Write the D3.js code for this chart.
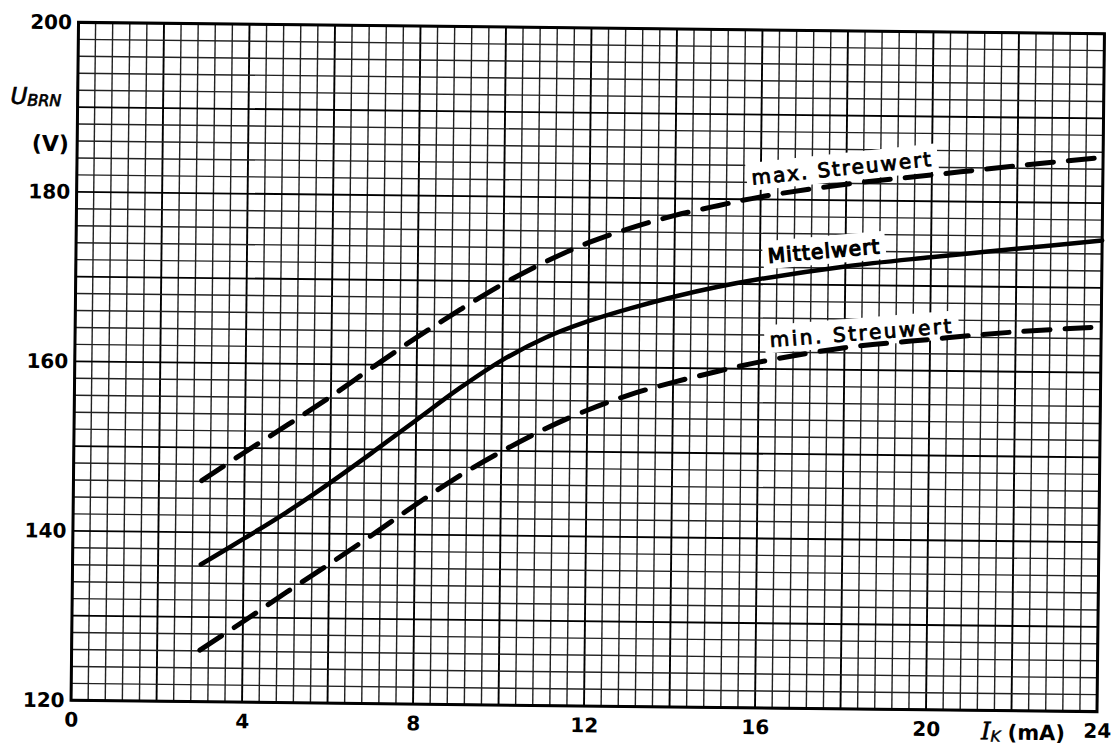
<!DOCTYPE html>
<html>
<head>
<meta charset="utf-8">
<script src="https://cdn.jsdelivr.net/npm/d3@7"></script>
<style>
  body { margin: 0; background: #fff; }
  svg { display: block; }
</style>
</head>
<body>
<script>
// values
var currentMA = [3, 4, 5, 6, 7, 8, 9, 10, 11, 12, 13, 14, 15, 16, 18, 20, 22, 24];
var maxStreu  = [146.1, 149.5, 152.8, 156.2, 159.8, 163.3, 166.6, 169.7, 172.4, 174.7, 176.5, 178.0, 179.2, 180.3, 181.9, 183.1, 184.3, 185.4];
var mittel    = [136.2, 139.3, 142.5, 146.0, 149.7, 153.5, 157.3, 160.7, 163.4, 165.4, 167.0, 168.4, 169.6, 170.6, 172.2, 173.4, 174.5, 175.6];
var minStreu  = [126.1, 129.5, 133.0, 136.4, 139.9, 143.5, 146.9, 149.9, 152.6, 154.9, 156.8, 158.3, 159.6, 160.8, 162.6, 163.7, 164.7, 165.4];

var xTicks = [0, 4, 8, 12, 16, 20, 24];
var yTicks = [120, 140, 160, 180, 200];
var labelNames = ["max. Streuwert", "Mittelwert", "min. Streuwert"];

var width = 1111, height = 749;
var m = { left: 74.75, top: 28 };
var plotW = 1026, plotH = 678;

var svg = d3.select("body").append("svg")
  .attr("width", width)
  .attr("height", height);

svg.append("rect").attr("width", width).attr("height", height).attr("fill", "#fff");

// the scan is a little bit tilted
var root = svg.append("g").attr("transform", "rotate(0.63, 587.75, 367)");
var g = root.append("g").attr("transform", "translate(" + m.left + "," + m.top + ")");

var x = d3.scaleLinear().domain([0, 24]).range([0, plotW]);
var y = d3.scaleLinear().domain([120, 200]).range([plotH, 0]);

// millimetre grid: 0.4 mA and 2 V cells, heavier every 5 cells
var vx = d3.range(0, 61).map(function(i) { return { v: i * 0.4, major: i % 5 == 0 }; });
var hy = d3.range(0, 41).map(function(i) { return { v: 120 + i * 2, major: i % 5 == 0 }; });

g.selectAll("line.vgrid").data(vx).enter().append("line")
  .attr("class", "vgrid")
  .attr("x1", function(d) { return x(d.v); })
  .attr("x2", function(d) { return x(d.v); })
  .attr("y1", 0).attr("y2", plotH)
  .attr("stroke", function(d) { return d.major ? "#000" : "#222"; })
  .attr("stroke-width", function(d) { return d.major ? 1.9 : 1.4; });

g.selectAll("line.hgrid").data(hy).enter().append("line")
  .attr("class", "hgrid")
  .attr("y1", function(d) { return y(d.v); })
  .attr("y2", function(d) { return y(d.v); })
  .attr("x1", 0).attr("x2", plotW)
  .attr("stroke", function(d) { return d.major ? "#000" : "#222"; })
  .attr("stroke-width", function(d) { return d.major ? 1.9 : 1.4; });

g.append("rect")
  .attr("width", plotW).attr("height", plotH)
  .attr("fill", "none").attr("stroke", "#000").attr("stroke-width", 3);

// axes (labels only)
var yAxis = g.append("g")
  .call(d3.axisLeft(y).tickValues(yTicks).tickSize(0).tickPadding(6.5).tickFormat(d3.format("d")));
var xAxis = g.append("g")
  .attr("transform", "translate(0," + plotH + ")")
  .call(d3.axisBottom(x).tickValues(xTicks).tickSize(0).tickPadding(12).tickFormat(d3.format("d")));

[yAxis, xAxis].forEach(function(a) {
  a.select(".domain").remove();
  a.selectAll("text")
    .attr("font-family", "DejaVu Sans")
    .attr("font-size", 20)
    .attr("font-weight", "bold")
    .attr("fill", "#000");
});

// axis titles
var yt = root.append("text")
  .attr("x", 33).attr("y", 110)
  .attr("text-anchor", "middle")
  .attr("font-family", "DejaVu Sans")
  .attr("font-style", "italic")
  .attr("stroke", "#000").attr("stroke-width", 0.7);
yt.append("tspan").attr("font-size", 23).text("U");
yt.append("tspan").attr("font-size", 16).attr("dy", 2).text("BRN");

root.append("text")
  .attr("x", 48).attr("y", 157)
  .attr("text-anchor", "middle")
  .attr("font-family", "DejaVu Sans")
  .attr("font-weight", "bold")
  .attr("font-size", 22)
  .text("(V)");

var xt = root.append("text")
  .attr("x", 1027).attr("y", 735)
  .attr("text-anchor", "middle")
  .attr("font-family", "DejaVu Sans");
xt.append("tspan").attr("font-family", "DejaVu Serif").attr("font-style", "italic")
  .attr("font-size", 24).attr("stroke", "#000").attr("stroke-width", 0.6).text("I");
xt.append("tspan").attr("font-style", "italic").attr("font-size", 15).attr("dy", 2)
  .attr("stroke", "#000").attr("stroke-width", 0.5).text("K");
xt.append("tspan").attr("font-size", 21).attr("font-weight", "bold").attr("dy", -2).text(" (mA)");

// curve labels sit on white patches of paper
var boxLayer = g.append("g");
var curveLayer = g.append("g");
var textLayer = g.append("g");

var labelSpots = [
  { at: [17.9, 183.8], angle: -6.6, spacing: 2 },
  { at: [17.5, 174.0], angle: -5.6, spacing: 1.2 },
  { at: [18.4, 164.4], angle: -5.1, spacing: 2.6 }
];

labelNames.forEach(function(name, i) {
  var s = labelSpots[i];
  var tr = "translate(" + x(s.at[0]) + "," + y(s.at[1]) + ") rotate(" + s.angle + ")";
  var t = textLayer.append("text")
    .attr("transform", tr)
    .attr("text-anchor", "middle")
    .attr("dy", "0.36em")
    .attr("font-family", "DejaVu Sans")
    .attr("font-size", 20)
    .attr("letter-spacing", s.spacing)
    .attr("stroke", "#000").attr("stroke-width", i == 1 ? 1.3 : 0.9)
    .text(name);
  var bb = t.node().getBBox();
  boxLayer.append("rect")
    .attr("transform", tr)
    .attr("x", bb.x - 5).attr("y", bb.y - 3)
    .attr("width", bb.width + 10).attr("height", bb.height + 4)
    .attr("fill", "#fff");
});

var line = d3.line()
  .x(function(d) { return x(d[0]); })
  .y(function(d) { return y(d[1]); })
  .curve(d3.curveCatmullRom);

var curves = [
  { values: maxStreu, dashed: true },
  { values: mittel, dashed: false },
  { values: minStreu, dashed: true }
];

curves.forEach(function(c) {
  curveLayer.append("path")
    .attr("d", line(d3.zip(currentMA, c.values)))
    .attr("fill", "none")
    .attr("stroke", "#000")
    .attr("stroke-width", c.dashed ? 5 : 4.5)
    .attr("stroke-linecap", "round")
    .attr("stroke-dasharray", c.dashed ? "26,15" : null);
});
</script>
</body>
</html>
